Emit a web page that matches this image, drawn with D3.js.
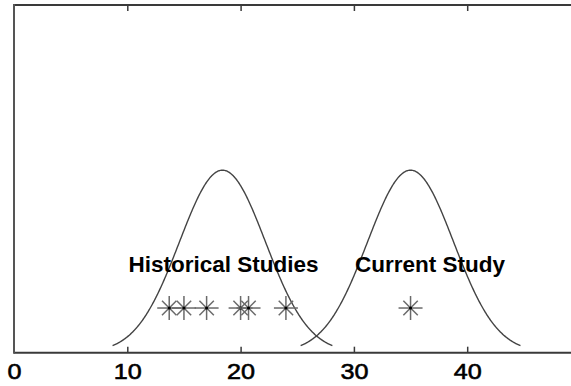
<!DOCTYPE html>
<html>
<head>
<meta charset="utf-8">
<script src="https://cdn.jsdelivr.net/npm/d3@7"></script>
<style>
  html, body { margin: 0; padding: 0; background: #fff; }
  svg { display: block; }
</style>
</head>
<body>
<svg id="chart" width="571" height="386"></svg>
<script>
// ---- data ----
const historicalStudies = [13.7, 15.0, 17.0, 20.0, 20.7, 24.0];
const currentStudy = [35.0];
const markerLevel = 0.0257;
const groupMeans = [18.4, 35.0];
const groupSD = 3.8;
const curveHalfSpan = 9.7;
const groupLabels = ["Historical Studies", "Current Study"];
const labelX = [10.1, 30.1];
const labelY = 0.0466;
const xTicks = [0, 10, 20, 30, 40];
const xDomain = [0, 50];
const yDomain = [0, 0.2];

(function () {
// ---- layout ----
const svg = d3.select("#chart");
const mLeft = 14, mTop = 5, mBottom = 352.7, mRight = 580.5;
const x = d3.scaleLinear().domain(xDomain).range([mLeft, mRight]);
const y = d3.scaleLinear().domain(yDomain).range([mBottom, mTop]);

// axes
const axisColor = "#3a3a3a";
const bottomAxis = d3.axisBottom(x).tickValues(xTicks).tickSize(-6).tickPadding(14)
  .tickFormat(d3.format("d"));
const gB = svg.append("g").attr("transform", `translate(0,${mBottom})`).call(bottomAxis);
gB.select(".domain").remove();
gB.selectAll(".tick line").attr("stroke", axisColor).attr("stroke-width", 1.5)
  .filter(d => d === 0).remove();
gB.selectAll(".tick text").attr("font-family", "Liberation Sans, Arial, sans-serif")
  .attr("font-size", "22.5px").attr("fill", "#000").attr("dy", null)
  .attr("stroke", "#000").attr("stroke-width", 0.6)
  .attr("y", 26.5).attr("dominant-baseline", "alphabetic")
  .attr("transform", "scale(1.12,1)");

const topAxis = d3.axisTop(x).tickValues(xTicks.filter(d => d > 0)).tickSize(-6).tickFormat("");
const gT = svg.append("g").attr("transform", `translate(0,${mTop})`).call(topAxis);
gT.select(".domain").remove();
gT.selectAll(".tick line").attr("stroke", axisColor).attr("stroke-width", 1.5);

// frame lines
svg.append("line").attr("x1", mLeft).attr("x2", 571).attr("y1", mTop).attr("y2", mTop)
  .attr("stroke", axisColor).attr("stroke-width", 2);
svg.append("line").attr("x1", mLeft).attr("x2", 571).attr("y1", mBottom).attr("y2", mBottom)
  .attr("stroke", axisColor).attr("stroke-width", 2);
svg.append("line").attr("x1", mLeft).attr("x2", mLeft).attr("y1", mTop - 1).attr("y2", mBottom + 1)
  .attr("stroke", "#555").attr("stroke-width", 2);

// density curves
const pdf = (v, m, s) => Math.exp(-((v - m) ** 2) / (2 * s * s)) / (s * Math.sqrt(2 * Math.PI));
const line = d3.line().x(d => x(d[0])).y(d => y(d[1])).curve(d3.curveLinear);
groupMeans.forEach(m => {
  const pts = d3.range(m - curveHalfSpan, m + curveHalfSpan + 1e-9, 0.05).map(v => [v, pdf(v, m, groupSD)]);
  svg.append("path").attr("d", line(pts)).attr("fill", "none")
    .attr("stroke", "#444").attr("stroke-width", 1.4);
});

// asterisk markers
const r = 12;
function star(g, v) {
  const cx = x(v), cy = y(markerLevel);
  const gg = g.append("g").attr("transform", `translate(${cx},${cy})`);
  [0, 45, 90, 135].forEach(a => {
    const rad = a * Math.PI / 180;
    const rr = (a % 90 === 0) ? r : r * 0.85;
    gg.append("line")
      .attr("x1", -rr * Math.cos(rad)).attr("y1", -rr * Math.sin(rad))
      .attr("x2", rr * Math.cos(rad)).attr("y2", rr * Math.sin(rad))
      .attr("stroke", "#6a6a6a").attr("stroke-width", 1.5);
  });
  gg.append("circle").attr("r", 1.6).attr("fill", "#000");
}
const markers = svg.append("g");
historicalStudies.concat(currentStudy).forEach(v => star(markers, v));

// labels
groupLabels.forEach((t, i) => {
  svg.append("text").attr("x", x(labelX[i])).attr("y", y(labelY))
    .attr("font-family", "Liberation Sans, Arial, sans-serif")
    .attr("font-size", "22.5px").attr("font-weight", "bold")
    .attr("fill", "#000").text(t);
});
})();
</script>
</body>
</html>
